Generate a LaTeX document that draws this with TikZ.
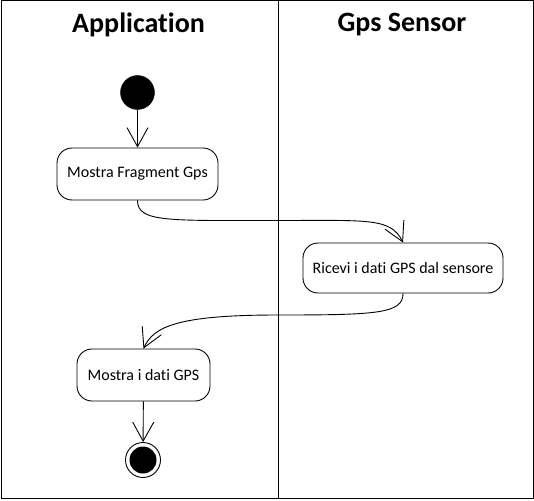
\documentclass[tikz,border=0pt]{standalone}
\usepackage{fontspec}
\setmainfont{Carlito}[Ligatures=NoCommon]
\usetikzlibrary{arrows.meta}
\begin{document}
\begin{tikzpicture}[x=1pt,y=-1pt,
  act/.style={draw,line width=0.9pt,rounded corners=15pt,font=\fontsize{16}{18}\selectfont,inner sep=0pt},
  flow/.style={line width=0.9pt,-{Straight Barb[length=19pt,width=21pt,line width=0.9pt]}},
  lanetitle/.style={font=\fontsize{28}{32}\selectfont\bfseries},
  frame/.style={line width=1pt}]
\useasboundingbox (0,0) rectangle (534,500);
\draw[frame] (1,1) rectangle (533,498.5);
\draw[frame] (278,1) -- (278,498.5);
\node[lanetitle] (t1) at (138.5,25) {Application};
\node[lanetitle] (t2) at (402,25) {Gps Sensor};
\node[circle,fill=black,draw,minimum size=34pt,inner sep=0pt] (start) at (137.5,92.5) {};
\node[act,minimum width=161pt,minimum height=52pt] (b1) at (137.5,174) {Mostra Fragment Gps};
\node[act,minimum width=200pt,minimum height=50pt] (b2) at (403,268) {Ricevi i dati GPS dal sensore};
\node[act,minimum width=133pt,minimum height=52pt] (b3) at (143.5,375) {Mostra i dati GPS};
\node[circle,draw,line width=0.9pt,minimum size=35pt,inner sep=0pt] (end) at (143,460) {};
\node[circle,fill=black,minimum size=27pt,inner sep=0pt] (endin) at (end.center) {};
\coordinate (m1) at (278,220.5);
\coordinate (m2) at (278,315);
\draw[flow] (start) -- (b1);
\draw[flow] (b1.south) .. controls +(0,22) and +(-110,0) .. (m1) .. controls +(90,0) and +(-12,-25) .. (b2.north);
\draw[flow] (b2.south) .. controls +(0,20) and +(100,0) .. (m2) .. controls +(-100,0) and +(10,-22) .. (b3.north);
\draw[flow] (b3) -- (end);
\end{tikzpicture}
\end{document}
